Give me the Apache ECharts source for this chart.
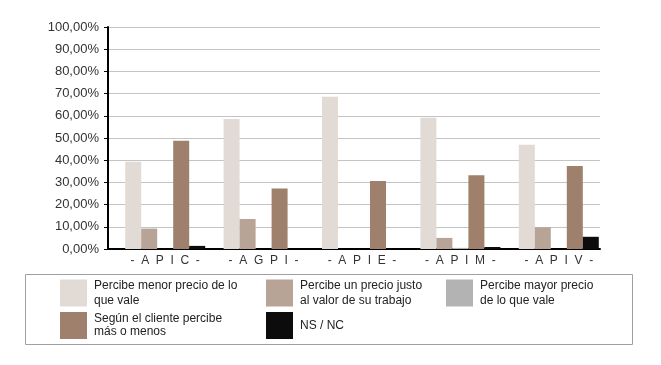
<!DOCTYPE html>
<html>
<head>
<meta charset="utf-8">
<script src="https://cdn.jsdelivr.net/npm/echarts@6/dist/echarts.min.js"></script>
<style>
html,body{margin:0;padding:0;background:#fff;}
#chart{width:661px;height:365px;}
</style>
</head>
<body>
<div id="chart"></div>
<script>
const categories = ['-  A  P  I  C  -', '-  A  G  P  I  -', '-  A  P  I  E  -', '-  A  P  I  M  -', '-  A  P  I  V  -'];
const seriesNames = [
  'Percibe menor precio de lo\nque vale',
  'Percibe un precio justo\nal valor de su trabajo',
  'Percibe mayor precio\nde lo que vale',
  'Según el cliente percibe\nmás o menos',
  'NS / NC'
];
const menorPrecio = [39.3, 58.6, 68.6, 59.1, 47.0];
const precioJusto = [9.2, 13.5, 0, 5.0, 9.8];
const mayorPrecio = [0, 0, 0, 0.5, 0];
const segunCliente = [48.8, 27.3, 30.6, 33.2, 37.4];
const nsnc = [1.4, 0, 0, 0.9, 5.5];
const seriesValues = [menorPrecio, precioJusto, mayorPrecio, segunCliente, nsnc];
const colors = ['#e2dbd5', '#b8a496', '#b3b3b3', '#9e806c', '#0c0c0c'];

const chart = echarts.init(document.getElementById('chart'));
const font = "'Liberation Sans Narrow', 'Arial Narrow', 'Liberation Sans', sans-serif";

const series = [{
  name: ' ',
  type: 'bar',
  barWidth: 16,
  barGap: '0%',
  data: categories.map(() => '-'),
  silent: true
}];
seriesValues.forEach((vals, i) => {
  series.push({
    name: seriesNames[i],
    type: 'bar',
    barWidth: 16,
    barGap: '0%',
    itemStyle: { color: colors[i] },
    data: vals
  });
});

function mkLegend(name, left, top, lh) {
  return {
    data: [name],
    left: left, top: top,
    padding: 0,
    orient: 'horizontal',
    icon: 'rect',
    itemWidth: 27, itemHeight: 27,
    selectedMode: false,
    textStyle: { fontFamily: font, fontSize: 12, color: '#222', lineHeight: lh, padding: [0, 0, 0, 2] }
  };
}

chart.setOption({
  animation: false,
  color: ['#fff'].concat(colors),
  grid: { left: 108, right: 61, top: 27, bottom: 116 },
  xAxis: {
    type: 'category',
    data: categories,
    axisLine: { lineStyle: { color: '#000', width: 2 } },
    axisTick: { show: false },
    axisLabel: { color: '#333', fontSize: 12, fontFamily: "'Liberation Sans', Arial, sans-serif", margin: 6, padding: [0, 0, 0, 16] }
  },
  yAxis: {
    type: 'value',
    min: 0, max: 100, interval: 10,
    axisLine: { show: true, lineStyle: { color: '#000', width: 2 } },
    axisTick: { show: true, length: 4, inside: false, lineStyle: { color: '#000', width: 1 } },
    splitLine: { lineStyle: { color: '#c4c4c4', width: 1 } },
    axisLabel: {
      color: '#333', fontSize: 13, fontFamily: "'Liberation Sans', Arial, sans-serif", margin: 9,
      formatter: v => v.toFixed(2).replace('.', ',') + '%'
    }
  },
  legend: [
    mkLegend(seriesNames[0], 60, 278, 15),
    mkLegend(seriesNames[1], 266, 278, 15),
    mkLegend(seriesNames[2], 446, 278, 15),
    mkLegend(seriesNames[3], 60, 312, 13),
    mkLegend(seriesNames[4], 266, 312, 13)
  ],
  graphic: [{
    type: 'rect',
    shape: { x: 25.5, y: 274.5, width: 607, height: 70 },
    style: { fill: 'none', stroke: '#a0a0a0', lineWidth: 1 },
    silent: true
  }],
  series: series
});
</script>
</body>
</html>
